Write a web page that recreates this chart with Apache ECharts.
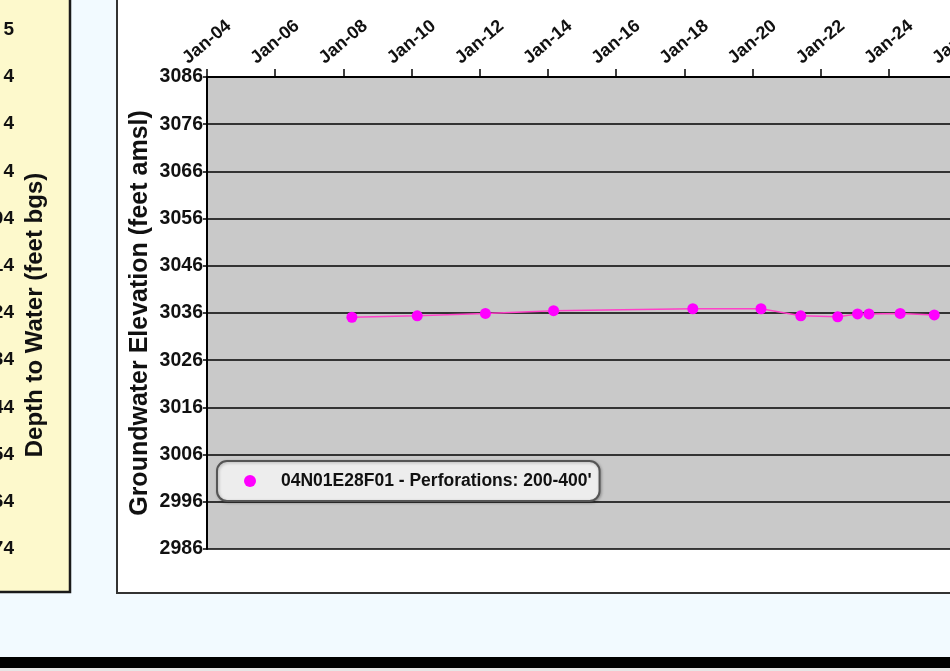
<!DOCTYPE html>
<html>
<head>
<meta charset="utf-8">
<script src="https://cdn.jsdelivr.net/npm/echarts@6/dist/echarts.min.js"></script>
<style>
  html, body { margin: 0; padding: 0; background: #f2faff; }
  #chart { width: 950px; height: 671px; }
</style>
</head>
<body>
<div id="chart"></div>
<script>
// ---- data ----
const sampleDates = ['2008-04', '2010-03', '2012-03', '2014-03', '2018-04', '2020-04',
                     '2021-06', '2022-07', '2023-02', '2023-06', '2024-05', '2025-05'];
const elevations  = [3035.1, 3035.4, 3035.9, 3036.5, 3036.9, 3036.9,
                     3035.4, 3035.2, 3035.8, 3035.8, 3035.9, 3035.6];
const seriesName = "04N01E28F01 - Perforations: 200-400'";
const depthTickLabels = ['5', '4', '4', '4', '04', '14', '24', '34', '44', '54', '64', '74'];
const yAxisTitle = 'Groundwater Elevation (feet amsl)';
const depthAxisTitle = 'Depth to Water (feet bgs)';

function toDecimalYear(s) {
  const [y, m] = s.split('-').map(Number);
  return y + (m - 1) / 12;
}
const points = sampleDates.map((d, i) => [toDecimalYear(d), elevations[i]]);

const FONT = '"Liberation Sans", Arial, sans-serif';
const chart = echarts.init(document.getElementById('chart'));

const gridTop = 77, gridH = 472;
const step = gridH / 10;
const depthTexts = depthTickLabels.map((t, i) => ({
  type: 'text',
  z: 5,
  style: {
    text: t, x: 14, y: gridTop - step + i * step,
    align: 'right', verticalAlign: 'middle',
    font: 'bold 19px ' + FONT, fill: '#111'
  }
}));

chart.setOption({
  backgroundColor: '#f2faff',
  animation: false,
  graphic: {
    elements: [
      { type: 'rect', z: -20, shape: { x: -4, y: -4, width: 74, height: 596 },
        style: { fill: '#fdf9cc', stroke: '#1a1a1a', lineWidth: 2.5 } },
      { type: 'rect', z: -20, shape: { x: 117, y: -6, width: 850, height: 599 },
        style: { fill: '#ffffff', stroke: '#333333', lineWidth: 2 } },
      { type: 'rect', z: -20, shape: { x: 0, y: 657, width: 950, height: 11 },
        style: { fill: '#000000' } },
      { type: 'rect', z: -20, shape: { x: 0, y: 668, width: 950, height: 3 },
        style: { fill: '#e6e6e6' } },
      { type: 'text', z: 5, x: 35, y: 315, rotation: Math.PI / 2,
        style: { text: depthAxisTitle, align: 'center', verticalAlign: 'middle',
                 font: 'bold 24px ' + FONT, fill: '#111' } },
      ...depthTexts
    ]
  },
  grid: {
    left: 207, top: gridTop, width: 750, height: gridH,
    outerBoundsMode: 'none', containLabel: false,
    show: true, backgroundColor: '#c9c9c9', borderWidth: 0
  },
  legend: {
    left: 217, top: 461,
    orient: 'horizontal',
    backgroundColor: '#ededed',
    borderColor: '#555555', borderWidth: 2, borderRadius: 10,
    padding: [11, 8, 11, 27],
    icon: 'circle', itemWidth: 12, itemHeight: 12,
    textStyle: { fontFamily: FONT, fontWeight: 'bold', fontSize: 17.5, color: '#111',
                 padding: [0, 0, 0, 20] },
    shadowColor: 'rgba(0,0,0,0.25)', shadowBlur: 3, shadowOffsetX: 1, shadowOffsetY: 1,
    data: [seriesName]
  },
  xAxis: {
    type: 'value', position: 'top',
    min: 2004, max: 2026, interval: 2,
    axisLine: { show: true, onZero: false, lineStyle: { color: '#000', width: 2 } },
    axisTick: { show: true, length: 8, inside: false, lineStyle: { color: '#000', width: 1.5 } },
    splitLine: { show: false },
    axisLabel: {
      rotate: -40, align: 'center', verticalAlign: 'middle', margin: 35,
      fontFamily: FONT, fontWeight: 'bold', fontSize: 18, color: '#111',
      formatter: v => 'Jan-' + String(Math.round(v)).slice(2),
      showMaxLabel: true
    }
  },
  yAxis: {
    type: 'value',
    min: 2986, max: 3086, interval: 10,
    name: yAxisTitle, nameLocation: 'middle', nameGap: 54, nameMoveOverlap: false,
    nameTextStyle: { fontFamily: FONT, fontWeight: 'bold', fontSize: 25, color: '#111' },
    axisLine: { show: true, onZero: false, lineStyle: { color: '#000', width: 2 } },
    axisTick: { show: true, length: 4, lineStyle: { color: '#000', width: 1.5 } },
    splitLine: { show: true, lineStyle: { color: '#000', width: 1.5 } },
    axisLabel: { margin: 4, fontFamily: FONT, fontWeight: 'bold', fontSize: 19.5, color: '#111',
                 formatter: v => String(v) }
  },
  series: [{
    name: seriesName,
    type: 'line',
    data: points,
    symbol: 'circle', symbolSize: 11,
    itemStyle: { color: '#ff00ff' },
    lineStyle: { color: '#ff40c8', width: 1.5 },
    z: 5
  }]
});
</script>
</body>
</html>
